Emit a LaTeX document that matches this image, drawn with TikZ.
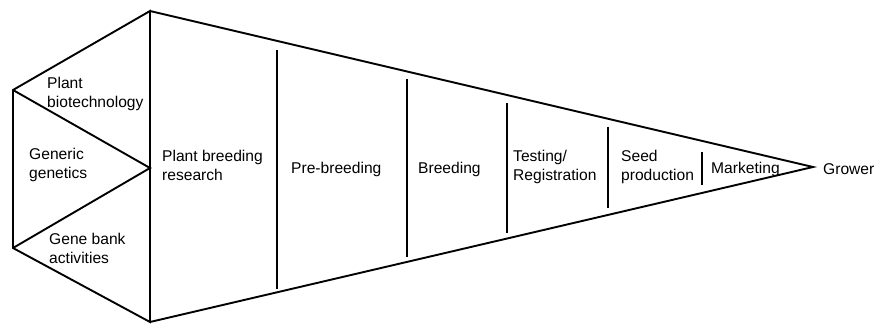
\documentclass[tikz,border=0pt]{standalone}
\usepackage{fontspec}
\setmainfont{Liberation Sans}
\begin{document}
\begin{tikzpicture}[x=1pt,y=-1pt,
  edge/.style={line width=1.9pt,line join=miter,black},
  lbl/.style={anchor=base west,inner sep=0pt,align=left,font=\fontsize{15.6}{18.5}\selectfont}]
\useasboundingbox (0,0) rectangle (878,324);
% outline coordinates
\coordinate (L1) at (13,90);
\coordinate (L2) at (13,248);
\coordinate (T) at (150,11);
\coordinate (M) at (150,168);
\coordinate (B) at (150,322);
\coordinate (tip) at (813,167);
% separators
\coordinate (s1a) at (277,50);  \coordinate (s1b) at (277,289);
\coordinate (s2a) at (407,79);  \coordinate (s2b) at (407,257);
\coordinate (s3a) at (507,103); \coordinate (s3b) at (507,233);
\coordinate (s4a) at (608,127); \coordinate (s4b) at (608,208);
\coordinate (s5a) at (702,152); \coordinate (s5b) at (702,185);
% shapes
\draw[edge] (L1) -- (T) -- (B) -- (L2) -- cycle;
\draw[edge] (L1) -- (M) -- (L2);
\draw[edge] (T) -- (tip) -- (B);
\foreach \i in {1,...,5} \draw[edge] (s\i a) -- (s\i b);
% labels (anchor = baseline of last line)
\node[lbl] (biotech) at (47,107) {Plant\\biotechnology};
\node[lbl] (generic) at (29,178) {Generic\\genetics};
\node[lbl] (genebank) at (49,263) {Gene bank\\activities};
\node[lbl] (pbr) at (162,180) {Plant breeding\\research};
\node[lbl] (pre) at (291,173) {Pre-breeding};
\node[lbl] (breed) at (418,173) {Breeding};
\node[lbl] (test) at (513,180) {Testing/\\Registration};
\node[lbl] (seed) at (621,180) {Seed\\production};
\node[lbl] (market) at (711,173) {Marketing};
\node[lbl] (grower) at (823,174) {Grower};
\end{tikzpicture}
\end{document}
